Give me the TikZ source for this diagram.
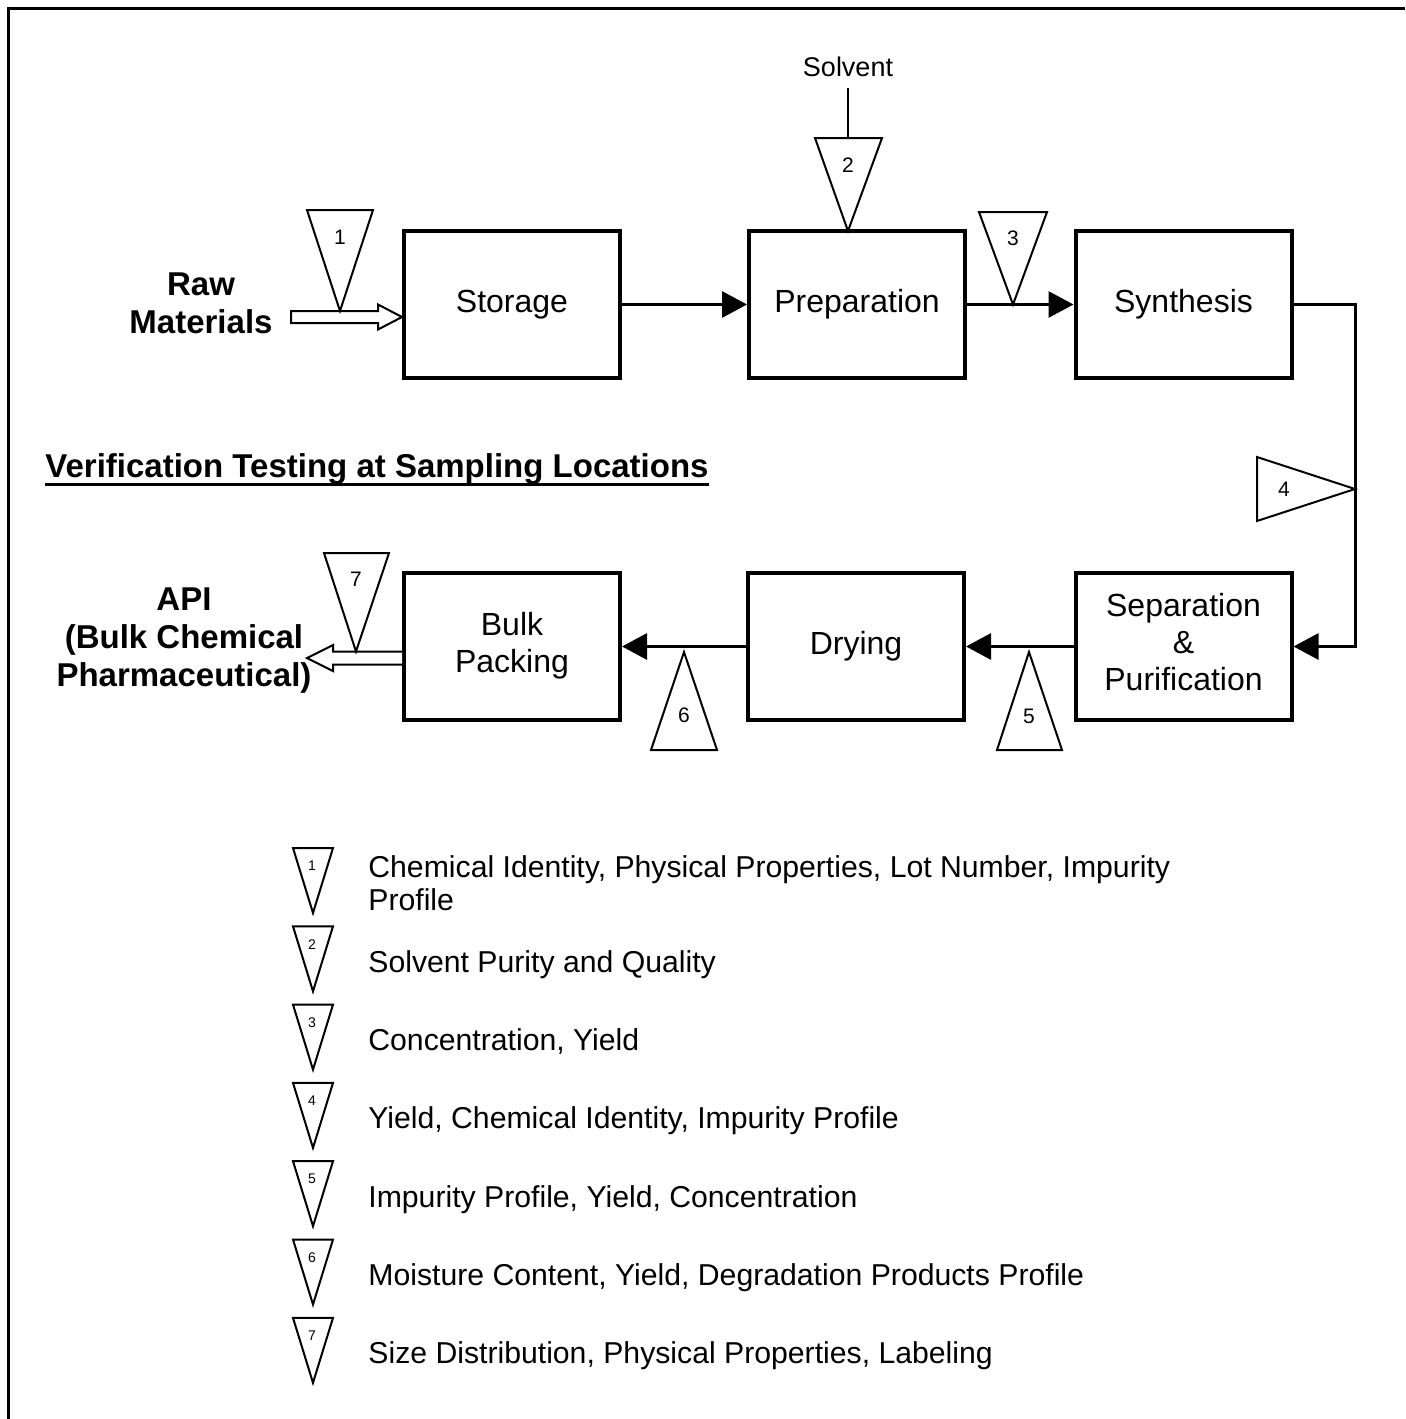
\documentclass[tikz,border=0pt]{standalone}
\usepackage{fontspec}
\setmainfont{Liberation Sans}
\usetikzlibrary{arrows.meta}
\begin{document}
\begin{tikzpicture}[x=0.5pt,y=-0.5pt,
  stagebox/.style={draw, line width=2pt, minimum width=108pt, minimum height=73.5pt,
    inner sep=0pt, font=\fontsize{16}{18.5}\selectfont},
  conn/.style={line width=1.5pt, -{Triangle[length=12.5pt,width=13pt]}},
  sampletri/.style={draw, line width=1pt, fill=white, line join=miter},
  trinum/.style={font=\fontsize{10.5}{12}\selectfont, inner sep=0pt},
  legnum/.style={font=\fontsize{7}{8}\selectfont, inner sep=0pt},
  legtext/.style={font=\fontsize{15.1}{16.5}\selectfont, inner sep=0pt, align=left},
  hollow/.style={draw, line width=1pt, fill=white, line join=miter},
  endlabel/.style={font=\bfseries\fontsize{16.5}{19}\selectfont, align=center, inner sep=0pt}]

\useasboundingbox (0,0) rectangle (1405,1419);

% page frame (top and left rules)
\draw[line width=1.5pt] (8,1419) -- (8,8) -- (1405,8);

% process stages
\node[stagebox] (storage) at (512,304.5) {Storage};
\node[stagebox] (prep)    at (857,304.5) {Preparation};
\node[stagebox] (synth)   at (1183.5,304.5) {Synthesis};
\node[stagebox] (sep)     at (1183.5,646.5)
  {\begin{tabular}{@{}c@{}}Separation\\\&\\Purification\end{tabular}};
\node[stagebox] (dry)     at (856,646.5) {Drying};
\node[stagebox] (bulk)    at (512,646.5)
  {\raisebox{1.5pt}{\begin{tabular}{@{}c@{}}Bulk\\Packing\end{tabular}}};

% flow connectors
\draw[conn] (storage.east) -- (prep.west);
\draw[conn] (prep.east) -- (synth.west);
\coordinate (bend) at (1355,304.5);
\draw[conn] (synth.east) -- (bend) |- (sep.east);
\draw[conn] (sep.west) -- (dry.east);
\draw[conn] (dry.west) -- (bulk.east);

% raw materials inlet
\node[endlabel] (raw) at (201,303) {Raw\\Materials};
\draw[hollow] (291,311) -- (378,311) -- (378,304.5) -- (storage.west |- 0,317)
  -- (378,329.5) -- (378,323) -- (291,323) -- cycle;

% API outlet
\node[endlabel] (api) at (184,641) {API\\(Bulk Chemical\\Pharmaceutical)};
\draw[hollow] (bulk.west |- 0,651.5) -- (333,651.5) -- (333,645) -- (307,658)
  -- (333,671) -- (333,664.5) -- (bulk.west |- 0,664.5);

% solvent feed
\node[font=\fontsize{13.5}{15}\selectfont, inner sep=0pt] (solvent) at (848,67) {Solvent};
\coordinate (solvtop) at (848,88);
\coordinate (t2top) at (848,138);
\draw[line width=1pt] (solvtop) -- (t2top);

% sampling points on the flow
\draw[sampletri] (307,210) -- (373,210) -- (340,311) -- cycle;
\node[trinum] (n1) at (340,237) {1};
\draw[sampletri] (815,138) -- (882,138) -- (848,231) -- cycle;
\node[trinum] (n2) at (848,165) {2};
\draw[sampletri] (979,212) -- (1047,212) -- (1013,304.5) -- cycle;
\node[trinum] (n3) at (1013,238) {3};
\draw[sampletri] (1257,457) -- (1257,521) -- (1355,489) -- cycle;
\node[trinum] (n4) at (1284,489) {4};
\draw[sampletri] (997,750) -- (1062,750) -- (1029,652) -- cycle;
\node[trinum] (n5) at (1029,716) {5};
\draw[sampletri] (651,750) -- (717,750) -- (684,652) -- cycle;
\node[trinum] (n6) at (684,715) {6};
\draw[sampletri] (324,553) -- (389,553) -- (356,651.5) -- cycle;
\node[trinum] (n7) at (356,579) {7};

% heading
\node[font=\bfseries\fontsize{16.5}{19}\selectfont, inner sep=0pt, anchor=base west]
  (title) at (45,477) {Verification Testing at Sampling Locations};
\draw[line width=1.5pt] ([yshift=-3.5pt]title.base west) -- ([yshift=-3.5pt]title.base east);

% legend
\foreach \i/\top in {1/848, 2/926.3, 3/1004.6, 4/1082.9, 5/1161.2, 6/1239.5, 7/1317.8} {
  \draw[sampletri] (293,\top) -- (333,\top) -- (313,\top+65) -- cycle;
  \node[legnum] (leg\i) at (312,\top+18) {\i};
}
\node[legtext, anchor=west] (d1) at (368,883.5)
  {Chemical Identity, Physical Properties, Lot Number, Impurity\\Profile};
\node[legtext, anchor=base west] (d2) at (368,972.3) {Solvent Purity and Quality};
\node[legtext, anchor=base west] (d3) at (368,1050.6) {Concentration, Yield};
\node[legtext, anchor=base west] (d4) at (368,1128.9) {Yield, Chemical Identity, Impurity Profile};
\node[legtext, anchor=base west] (d5) at (368,1207.2) {Impurity Profile, Yield, Concentration};
\node[legtext, anchor=base west] (d6) at (368,1285.5) {Moisture Content, Yield, Degradation Products Profile};
\node[legtext, anchor=base west] (d7) at (368,1363.8) {Size Distribution, Physical Properties, Labeling};

\end{tikzpicture}
\end{document}
